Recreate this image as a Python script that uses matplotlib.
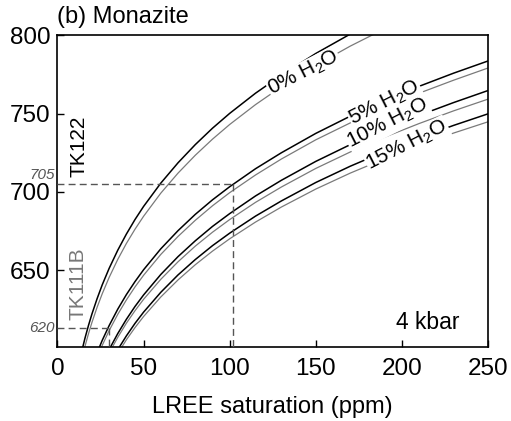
import numpy as np
from matplotlib import pyplot as plt

plt.rcParams['font.family'] = ['Liberation Sans', 'DejaVu Sans']
plt.rcParams['mathtext.fontset'] = 'custom'
plt.rcParams['mathtext.rm'] = 'Liberation Sans'
plt.rcParams['mathtext.it'] = 'Liberation Sans:italic'

# LREE (ppm) where the curves were read
lree = [10, 12, 14, 16, 18, 20, 23, 26, 30, 35, 40, 45, 50, 60, 70, 80, 90, 100,
        115, 130, 150, 170, 190, 210, 230, 250]

# temperature (C), TK122 (black) and TK111B (gray)
tk122_0 = [576.1, 587.7, 597.7, 606.6, 614.6, 621.9, 631.7, 640.6, 651.1, 662.7, 673.0,
           682.3, 690.7, 705.6, 718.6, 730.2, 740.7, 750.2, 763.1, 774.6, 788.5, 800.9,
           812.2, 822.5, 832.1, 841.0]
tk111b_0 = [571.2, 582.7, 592.6, 601.4, 609.3, 616.5, 626.2, 634.9, 645.3, 656.8, 667.0,
            676.1, 684.4, 699.2, 712.0, 723.4, 733.7, 743.1, 755.8, 767.2, 780.9, 793.2,
            804.3, 814.5, 823.9, 832.7]
tk122_5 = [546.6, 557.1, 566.3, 574.4, 581.6, 588.2, 597.1, 605.1, 614.5, 625.0, 634.3,
           642.6, 650.2, 663.6, 675.2, 685.6, 694.9, 703.3, 714.8, 725.0, 737.4, 748.4,
           758.3, 767.5, 775.9, 783.7]
tk111b_5 = [543.9, 554.3, 563.4, 571.4, 578.6, 585.2, 594.0, 601.9, 611.3, 621.7, 630.9,
            639.2, 646.7, 660.0, 671.5, 681.8, 691.1, 699.5, 710.8, 721.0, 733.3, 744.1,
            754.0, 763.1, 771.4, 779.2]
tk122_10 = [532.6, 543.0, 551.9, 559.8, 566.9, 573.4, 582.1, 589.9, 599.2, 609.4, 618.5,
            626.7, 634.1, 647.2, 658.6, 668.7, 677.9, 686.1, 697.4, 707.4, 719.5, 730.2,
            739.9, 748.9, 757.1, 764.8]
tk111b_10 = [531.5, 541.6, 550.4, 558.3, 565.2, 571.6, 580.2, 587.8, 597.0, 607.0, 616.0,
             624.0, 631.3, 644.1, 655.3, 665.3, 674.2, 682.3, 693.3, 703.1, 715.0, 725.5,
             735.0, 743.7, 751.8, 759.3]
tk122_15 = [524.2, 534.3, 543.0, 550.8, 557.7, 564.0, 572.4, 580.1, 589.1, 599.1, 607.9,
            615.9, 623.1, 635.8, 646.9, 656.7, 665.6, 673.6, 684.5, 694.2, 706.0, 716.4,
            725.8, 734.5, 742.5, 749.9]
tk111b_15 = [522.9, 532.9, 541.5, 549.1, 555.9, 562.1, 570.5, 578.0, 586.9, 596.7, 605.4,
             613.2, 620.3, 632.8, 643.7, 653.4, 662.1, 670.0, 680.7, 690.3, 701.8, 712.0,
             721.2, 729.7, 737.6, 744.8]

labels = ['0% H$_2$O', '5% H$_2$O', '10% H$_2$O', '15% H$_2$O']
label_x = [143, 190, 192, 203]
label_y = [776, 757, 743.5, 730]

# saturation readings marked with dashed lines
tk122_x, tk122_T = 102, 705
tk111b_x, tk111b_T = 30, 613

fig = plt.figure(figsize=(5.11, 4.21), dpi=100)
ax = fig.add_axes([0.1125, 0.1765, 0.8425, 0.7392])

black = [tk122_0, tk122_5, tk122_10, tk122_15]
gray = [tk111b_0, tk111b_5, tk111b_10, tk111b_15]
for b, g in zip(black, gray):
    ax.plot(lree, b, color='black', lw=1.1, zorder=2)
    ax.plot(lree, g, color='#7a7a7a', lw=0.9, zorder=2)

for t, x, y in zip(labels, label_x, label_y):
    ax.text(x, y, t, fontsize=15, rotation=27, ha='center', va='center',
            rotation_mode='anchor', zorder=4,
            bbox=dict(facecolor='white', edgecolor='none', pad=0.5))

dash = dict(color='#555555', lw=1.0, ls=(0, (5, 3)), zorder=3)
ax.plot([0, tk122_x], [tk122_T, tk122_T], **dash)
ax.plot([tk122_x, tk122_x], [tk122_T, 600], **dash)
ax.plot([0, tk111b_x], [tk111b_T, tk111b_T], **dash)
ax.plot([tk111b_x, tk111b_x], [tk111b_T, 600], **dash)

ax.text(-1.5, 706, '705', fontsize=11, style='italic', color='#555555',
        ha='right', va='bottom', clip_on=False)
ax.text(-1.5, tk111b_T, '620', fontsize=11, style='italic', color='#555555',
        ha='right', va='center', clip_on=False)

ax.text(12.3, 729, 'TK122', fontsize=15, rotation=90, ha='center', va='center')
ax.text(12.1, 641, 'TK111B', fontsize=15, rotation=90, ha='center', va='center',
        color='#777777')
ax.text(233.5, 612, '4 kbar', fontsize=16.5, ha='right', va='baseline')

ax.set_xlim(0, 250)
ax.set_ylim(601, 800)
ax.set_xticks([0, 50, 100, 150, 200, 250])
ax.set_yticks([650, 700, 750, 800])
ax.tick_params(direction='in', length=5, width=1, labelsize=17.5, pad=8)
ax.tick_params(axis='y', pad=5)
for s in ax.spines.values():
    s.set_linewidth(1.2)

ax.set_xlabel('LREE saturation (ppm)', fontsize=17, labelpad=12)
ax.set_title('(b) Monazite', fontsize=17, loc='left', pad=9)

plt.savefig('out.png', dpi=100)
